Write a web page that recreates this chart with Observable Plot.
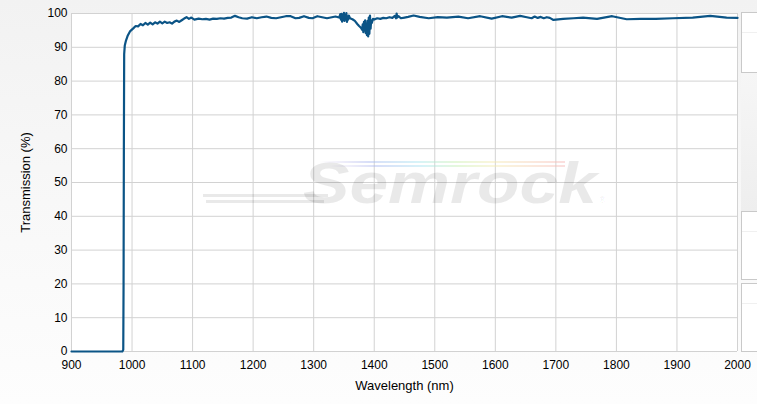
<!DOCTYPE html>
<html>
<head>
<meta charset="utf-8">
<script src="https://cdn.jsdelivr.net/npm/d3@7"></script>
<script src="https://cdn.jsdelivr.net/npm/@observablehq/plot@0.6"></script>
<style>
  html, body { margin: 0; padding: 0; }
  body { width: 757px; height: 404px; overflow: hidden; position: relative;
         background: linear-gradient(to bottom, #f2f2f2 0%, #f8f8f8 50%, #fdfdfd 100%);
         font-family: "Liberation Sans", Arial, sans-serif; }
  #chart { position: absolute; left: 0; top: 0; }
  #chart g[aria-label="x-axis label"], #chart g[aria-label="y-axis label"] { font-size: 13px; }
  .side { position: absolute; left: 741px; width: 30px; background: #fff; border: 1px solid #c9c9c9; box-sizing: border-box; }
  .side::after { content: ""; position: absolute; left: 0; right: 0; top: 19px; border-top: 1px solid #f0f0f0; }
  #sidebg { position: absolute; left: 741px; top: 72px; width: 16px; height: 139px;
            background: linear-gradient(to bottom, #f6f6f6, #eeeeee); }
  #wm { position: absolute; left: 0; top: 0; pointer-events: none; }
</style>
</head>
<body>
<div id="sidebg"></div>
<div class="side" style="top:12px;height:61px"></div>
<div class="side" style="top:211px;height:69px"></div>
<div class="side" style="top:283px;height:69px"></div>
<div id="chart"></div>
<svg id="wm" width="757" height="404">
  <defs>
    <linearGradient id="rb" x1="0" x2="1" y1="0" y2="0">
      <stop offset="0" stop-color="#b9a6e0" stop-opacity="0"/>
      <stop offset="0.2" stop-color="#a9b8f0"/>
      <stop offset="0.4" stop-color="#a8e6f0"/>
      <stop offset="0.55" stop-color="#c8f0b0"/>
      <stop offset="0.7" stop-color="#f5ecb0"/>
      <stop offset="1" stop-color="#f8b8b8"/>
    </linearGradient>
  </defs>
  <g opacity="0.45">
    <rect x="320" y="161" width="245" height="2" fill="url(#rb)"/>
    <rect x="330" y="165" width="235" height="2" fill="url(#rb)"/>
  </g>
  <g fill="#000" fill-opacity="0.085">
    <rect x="203" y="194" width="125" height="3"/>
    <rect x="206" y="200" width="118" height="3"/>
    <text x="303" y="203" font-family="Liberation Sans, Arial, sans-serif" font-weight="bold" font-style="italic"
          font-size="58" textLength="294" lengthAdjust="spacingAndGlyphs">Semrock</text>
    <text x="599" y="203" font-family="Liberation Sans, Arial, sans-serif" font-size="9">®</text>
  </g>
</svg>
<script>
const xTicks = [900, 1000, 1100, 1200, 1300, 1400, 1500, 1600, 1700, 1800, 1900, 2000];
const yTicks = [0, 10, 20, 30, 40, 50, 60, 70, 80, 90, 100];

const wavelength = [
  900, 984, 985.5, 986, 986.5, 987, 988, 990, 993, 997,
  1002, 1006, 1010, 1014, 1018, 1022, 1026, 1030, 1034, 1038,
  1042, 1046, 1050, 1054, 1058, 1062, 1066, 1070, 1074, 1078,
  1082, 1086, 1090, 1094, 1098, 1103, 1110, 1116, 1122, 1128,
  1134, 1140, 1146, 1152, 1158, 1164, 1170, 1176, 1182, 1190,
  1198, 1206, 1214, 1222, 1230, 1238, 1246, 1254, 1262, 1270,
  1276, 1284, 1292, 1298, 1306, 1314, 1322, 1330, 1336, 1342,
  1344, 1345, 1346, 1347, 1348, 1349, 1350, 1351, 1352, 1353,
  1354, 1355, 1356, 1357, 1358, 1360, 1364, 1368, 1372, 1375,
  1378, 1380, 1381, 1382, 1383, 1384, 1385, 1386, 1387, 1388,
  1389, 1390, 1391, 1392, 1393, 1394, 1395, 1396, 1398, 1400,
  1405, 1410, 1415, 1420, 1425, 1430, 1434, 1436, 1437, 1438,
  1440, 1444, 1450, 1456, 1465, 1475, 1490, 1505, 1520, 1539,
  1555, 1575, 1594, 1611, 1627, 1641, 1652, 1660, 1665, 1670,
  1675, 1680, 1685, 1690, 1696, 1712, 1729, 1745, 1768, 1793,
  1817, 1840, 1865, 1893, 1926, 1955, 1982, 2000
];
const transmission = [
  0, 0, 0.5, 20, 60, 88, 90.5, 92, 93.5, 94.8,
  95.6, 96.3, 96.2, 96.9, 96.5, 97.2, 96.7, 97.3, 96.8, 97.4,
  97.0, 97.6, 97.1, 97.6, 97.2, 97.4, 97.0, 97.6, 97.9, 97.5,
  98.0, 98.5, 98.9, 98.4, 98.8, 98.2, 98.5, 98.3, 98.4, 98.2,
  98.5, 98.4, 98.6, 98.5, 98.7, 98.8, 99.3, 98.9, 98.6, 98.5,
  98.9, 98.6, 98.9, 99.1, 98.7, 98.6, 98.9, 99.2, 99.2, 98.6,
  98.7, 99.2, 98.7, 98.6, 99.2, 98.9, 98.6, 98.9, 99.1, 98.8,
  99.8, 98.2, 99.9, 97.6, 99.6, 98.0, 100.2, 97.8, 99.5, 98.4,
  100.1, 97.5, 99.0, 98.2, 99.4, 98.6, 98.3, 97.8, 96.9, 96.3,
  95.8, 95.2, 96.8, 94.5, 97.5, 95.0, 98.0, 94.2, 96.5, 93.6,
  97.8, 93.2, 98.8, 94.0, 99.4, 95.5, 98.0, 97.2, 98.4, 98.2,
  98.6, 98.4, 98.7, 98.6, 98.9, 98.7, 99.3, 98.6, 100.0, 98.8,
  99.2, 98.6, 98.8, 99.0, 99.4, 99.0, 98.6, 98.9, 98.8, 99.1,
  98.6, 99.2, 98.5, 99.2, 98.8, 99.3, 98.9, 98.6, 99.1, 98.7,
  99.0, 98.6, 98.9, 98.7, 98.1, 98.4, 98.6, 98.8, 98.4, 99.2,
  98.3, 98.4, 98.4, 98.6, 98.8, 99.3, 98.8, 98.7
];

const data = wavelength.map((w, i) => ({wl: w, t: transmission[i]}));

const chart = Plot.plot({
  width: 757,
  height: 404,
  marginLeft: 71,
  marginRight: 20,
  marginTop: 13,
  marginBottom: 53,
  style: {background: "transparent", fontFamily: "'Liberation Sans', Arial, sans-serif", fontSize: "12px", color: "#000"},
  x: {domain: [900, 2000], ticks: xTicks, tickSize: 0, tickPadding: 9, tickFormat: d => String(d),
      label: "Wavelength (nm)", labelAnchor: "center", labelOffset: 38, labelArrow: "none"},
  y: {domain: [0, 100], ticks: yTicks, tickSize: 0, tickPadding: 4,
      label: "Transmission (%)", labelAnchor: "center", labelOffset: 51, labelArrow: "none"},
  marks: [
    Plot.frame({fill: "white", stroke: "none"}),
    Plot.gridX(xTicks, {stroke: "#d2d2d2", strokeOpacity: 1}),
    Plot.gridY(yTicks, {stroke: "#d2d2d2", strokeOpacity: 1}),
    Plot.lineY(data, {x: "wl", y: "t", stroke: "#0b5486", strokeWidth: 2.2, strokeLinejoin: "round"})
  ]
});
document.getElementById("chart").appendChild(chart);
</script>
</body>
</html>
